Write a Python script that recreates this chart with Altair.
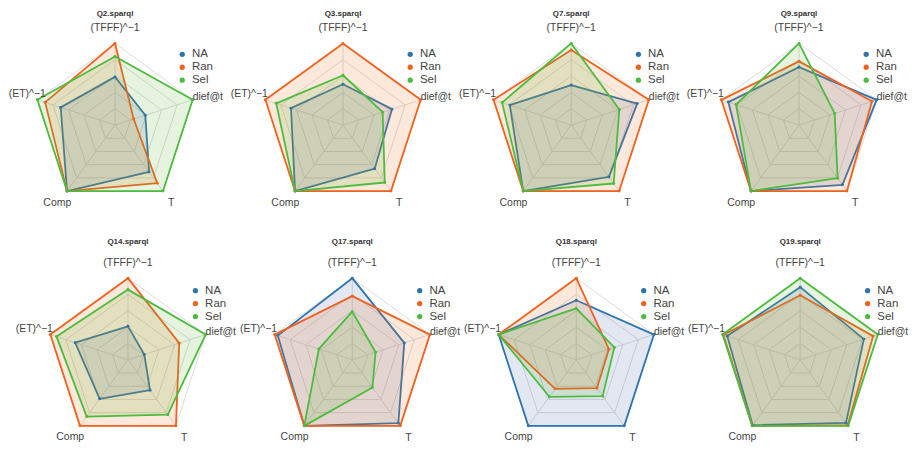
import altair as alt
import pandas as pd

# ---------------- data ----------------
queries = ["Q2.sparql", "Q3.sparql", "Q7.sparql", "Q9.sparql",
           "Q14.sparql", "Q17.sparql", "Q18.sparql", "Q19.sparql"]
metrics = ["(TFFF)^\u22121", "dief@t", "T", "Comp", "(ET)^\u22121"]
series = ["NA", "Ran", "Sel"]
colors = ["#2e75ae", "#f0621e", "#4cbb3e"]
fill_colors = ["#3a5ca8", "#ec7318", "#62b637"]
fill_opacities = [0.15, 0.16, 0.11]
grid_levels = [0.2, 0.4, 0.6, 0.8, 1.0]

# values per query, per series, metric order: TFFF, dief@t, T, Comp, ET
na_vals = [
    [0.59, 0.39, 0.71, 1.00, 0.70],
    [0.50, 0.63, 0.66, 1.00, 0.67],
    [0.49, 0.85, 0.785, 1.00, 0.79],
    [0.71, 1.00, 0.905, 1.00, 0.91],
    [0.41, 0.21, 0.46, 0.59, 0.68],
    [1.00, 0.67, 0.96, 1.00, 0.96],
    [0.73, 1.00, 1.00, 1.00, 1.00],
    [0.89, 0.82, 0.955, 0.99, 0.94],
]
ran_vals = [
    [1.00, 0.24, 0.88, 1.00, 0.90],
    [1.00, 1.00, 1.00, 1.00, 1.00],
    [0.92, 1.00, 1.00, 1.00, 1.00],
    [0.78, 0.94, 1.00, 1.00, 1.00],
    [1.00, 0.66, 1.00, 1.00, 1.00],
    [0.78, 1.00, 1.00, 1.00, 1.00],
    [1.00, 0.42, 0.43, 0.44, 1.00],
    [0.79, 0.94, 0.99, 1.00, 0.99],
]
sel_vals = [
    [0.84, 1.00, 1.00, 1.00, 1.00],
    [0.61, 0.51, 0.87, 1.00, 0.86],
    [1.00, 0.62, 0.885, 1.00, 0.89],
    [1.00, 0.46, 0.805, 1.00, 0.81],
    [0.86, 1.00, 0.83, 0.86, 0.92],
    [0.59, 0.30, 0.42, 1.00, 0.43],
    [0.63, 0.49, 0.55, 0.56, 1.00],
    [1.00, 1.00, 1.00, 1.00, 1.00],
]
series_vals = {"NA": na_vals, "Ran": ran_vals, "Sel": sel_vals}

# ---------------- layout / style ----------------
FONT = "Liberation Sans"
R = 82.0  # pixels for radius 1
col_widths = [225, 225, 225, 218]
rows_layout = [
    dict(height=236, cx=[107.5, 111.5, 115.7, 119.5], cy=116.6,
         title_y=5.5, leg=(61.75, -76.8)),
    dict(height=197, cx=[120.5, 120.8, 120.8, 120.7], cy=116.4,
         title_y=-2.0, leg=(62.0, -75.2)),
]
# label placement styles: (align, dx, dy)
label_styles = [("center", 0, -15.6), ("left", 0, -2.5), ("center", 8.3, 12.1),
                ("center", -9.8, 11.7), ("right", 2.5, -6.0)]

ANG = "PI/2 - 2*PI*(datum.k % 5)/5"

rings_df = pd.DataFrame([{"level": l, "k": k} for l in grid_levels for k in range(6)])
spokes_df = pd.DataFrame({"k": list(range(5))})
labels_df = pd.DataFrame({"k": list(range(5)), "name": metrics})

cscale = alt.Scale(domain=series, range=colors)
fscale = alt.Scale(domain=series, range=fill_colors)
foscale = alt.Scale(domain=series, range=fill_opacities)


def panel(qi, row, col):
    L = rows_layout[row]
    w, h, cx, cy = col_widths[col], L["height"], L["cx"][col], L["cy"]
    xs = alt.Scale(domain=[-cx / R, (w - cx) / R], nice=False, zero=False)
    ys = alt.Scale(domain=[-(h - cy) / R, cy / R], nice=False, zero=False)
    X = alt.X("px:Q", scale=xs, axis=None)
    Y = alt.Y("py:Q", scale=ys, axis=None)

    lx, ly = L["leg"]
    legend = alt.Legend(
        orient="none", legendX=cx + lx, legendY=cy + ly, title=None,
        labelFontSize=11.5, labelFont=FONT, labelColor="#444",
        symbolType="circle", symbolSize=28, symbolOpacity=1,
        symbolStrokeWidth=0, rowPadding=0, padding=0)

    rings = alt.Chart(rings_df).transform_calculate(
        ang=ANG, px="datum.level*cos(datum.ang)", py="datum.level*sin(datum.ang)"
    ).mark_line(stroke="#dcdcdc", strokeWidth=1).encode(
        x=X, y=Y, detail="level:N", order="k:Q")

    spokes = alt.Chart(spokes_df).transform_calculate(
        ang=ANG, px="cos(datum.ang)", py="sin(datum.ang)", zero="0"
    ).mark_rule(stroke="#dcdcdc", strokeWidth=1).encode(
        x=alt.X("zero:Q", scale=xs, axis=None), y=alt.Y("zero:Q", scale=ys, axis=None),
        x2="px:Q", y2="py:Q")

    rows = []
    for s in series:
        v = series_vals[s][qi]
        for k in range(6):
            rows.append({"series": s, "k": k, "value": v[k % 5]})
    sdf = pd.DataFrame(rows)
    base = alt.Chart(sdf).transform_calculate(
        ang=ANG, px="datum.value*cos(datum.ang)", py="datum.value*sin(datum.ang)")

    poly = base.mark_line(strokeWidth=1.8, strokeJoin="round").encode(
        x=X, y=Y,
        color=alt.Color("series:N", scale=cscale, legend=legend),
        fill=alt.Fill("series:N", scale=fscale, legend=None),
        fillOpacity=alt.FillOpacity("series:N", scale=foscale, legend=None),
        order="k:Q")

    pts = base.transform_filter("datum.k < 5").mark_point(
        filled=True, size=9, opacity=1).encode(
        x=X, y=Y,
        color=alt.Color("series:N", scale=cscale, legend=legend))

    labs = []
    for i, (al, dx, dy) in enumerate(label_styles):
        if i == 4 and row == 0 and col == 0:
            dx = 8.5
        labs.append(alt.Chart(labels_df).transform_filter(f"datum.k == {i}").transform_calculate(
            ang=ANG, px="cos(datum.ang)", py="sin(datum.ang)"
        ).mark_text(align=al, baseline="middle", dx=dx, dy=dy, fontSize=10.5,
                    font=FONT, color="#444").encode(x=X, y=Y, text="name:N"))

    title = alt.Chart(pd.DataFrame({"q": [queries[qi]]})).transform_calculate(
        px="0").mark_text(fontSize=8, fontWeight="bold", font=FONT, color="#333",
                          baseline="middle").encode(
        x=X, y=alt.value(L["title_y"]), text="q:N")

    return alt.layer(rings, spokes, poly, pts, *labs, title).properties(width=w, height=h)


panels = [panel(r * 4 + c, r, c) for r in range(2) for c in range(4)]

chart = alt.concat(*panels, columns=4, spacing=0, bounds="flush").resolve_scale(
    x="independent", y="independent", color="independent", fill="independent",
    fillOpacity="independent"
).resolve_legend(color="independent", fill="independent",
                 fillOpacity="independent").properties(
    padding=0).configure_view(strokeWidth=0)

chart.save("out.html", embed_options={"renderer": "svg", "actions": False})
